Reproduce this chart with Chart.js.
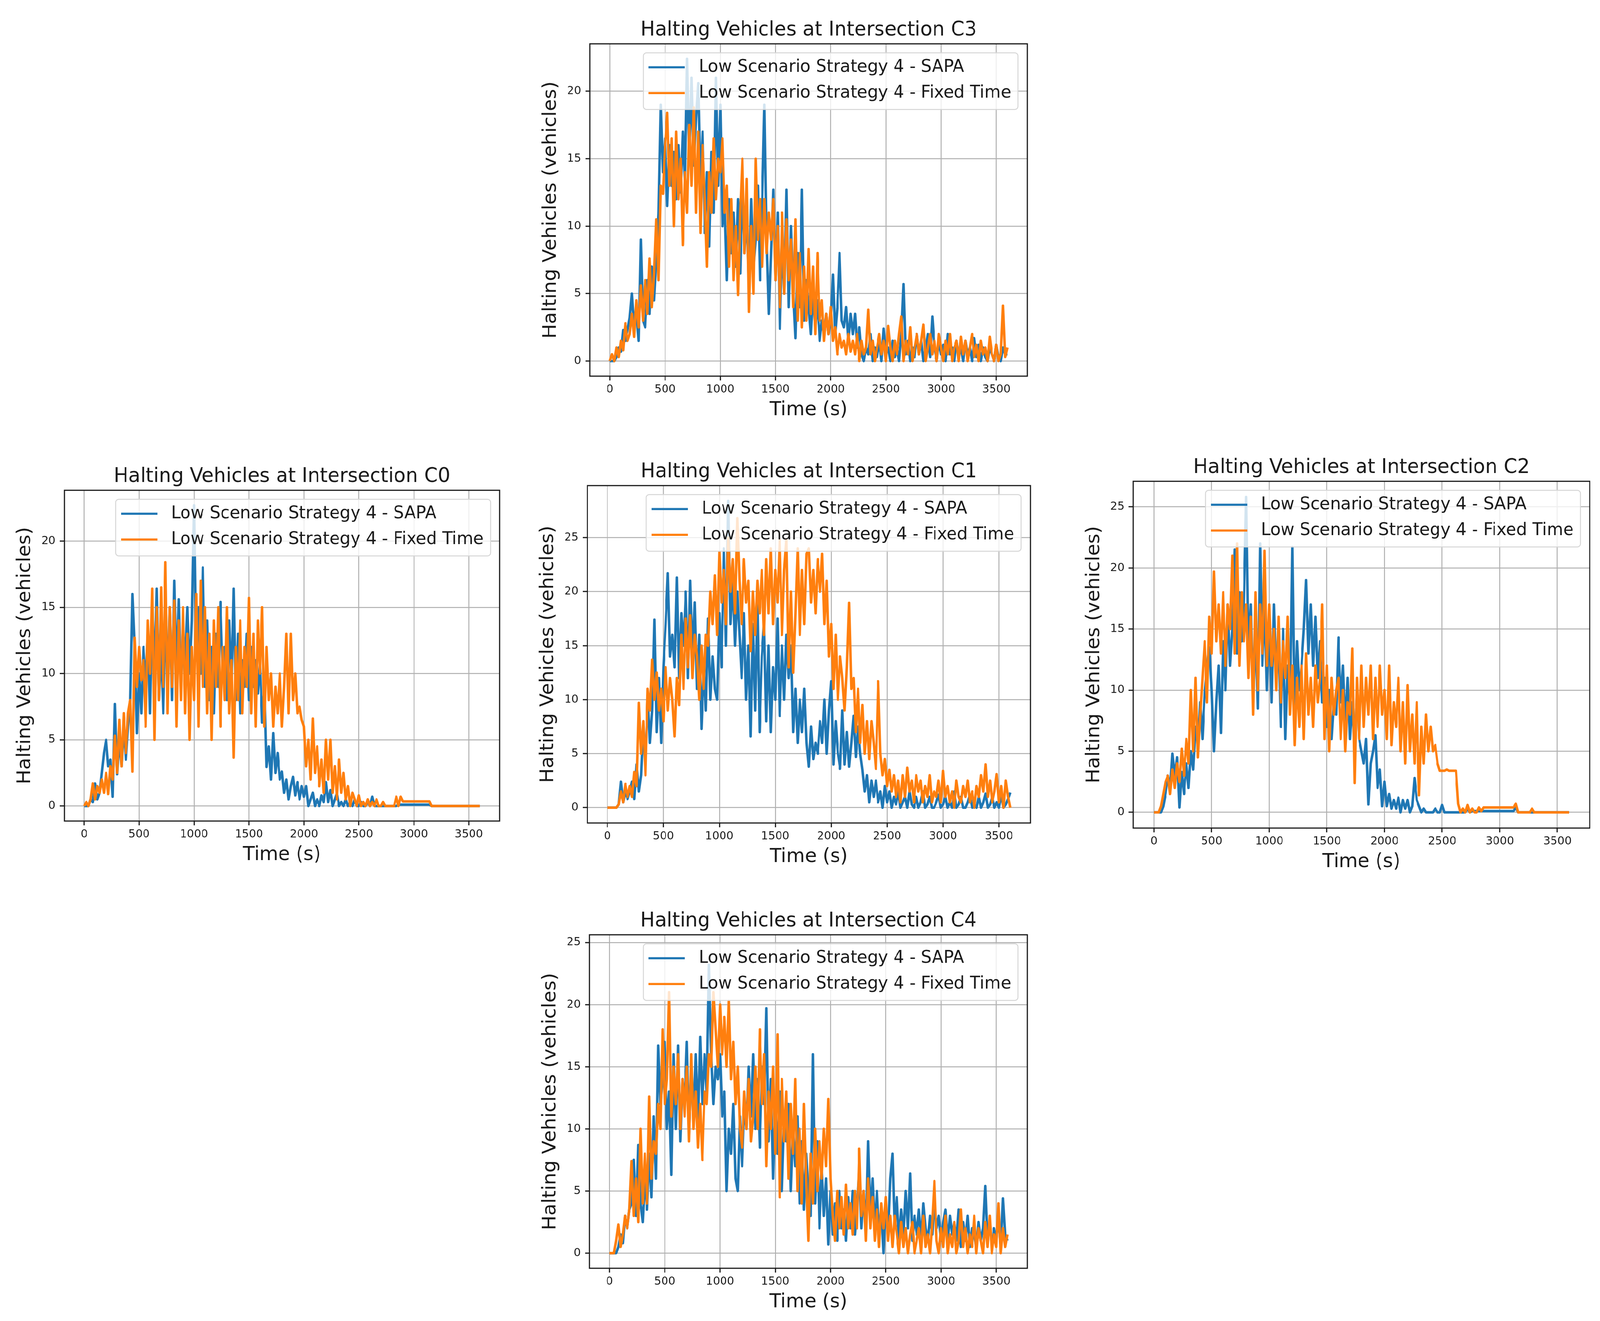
<!DOCTYPE html>
<html>
<head>
<meta charset="utf-8">
<title>Halting Vehicles at Intersections</title>
<script src="https://cdn.jsdelivr.net/npm/chart.js@4.4.1/dist/chart.umd.min.js"></script>
<style>
  html, body { margin: 0; padding: 0; background: #fff; overflow: hidden; }
  #page { position: relative; width: 4179px; height: 3382px; overflow: hidden; background: #fff; transform-origin: 0 0; }
  #page canvas { position: absolute; }
</style>
</head>
<body>
<div id="page"></div>
<script>
// one sample every 20 s, from 0 to 3600 s (181 values per series)
const stepSec = 20;
const timeTicks = [0, 500, 1000, 1500, 2000, 2500, 3000, 3500];
const yTicks20 = [0, 5, 10, 15, 20];
const yTicks25 = [0, 5, 10, 15, 20, 25];
const seriesNames = ['Low Scenario Strategy 4 - SAPA', 'Low Scenario Strategy 4 - Fixed Time'];

const sapaC3 = [
  0, 0, 0, 0.3, 1, 0.7, 2.3, 1.5, 2.3, 3.2,
  5, 2.5, 3.5, 1.5, 9, 3, 2.5, 6, 3.5, 7,
  4.5, 7.5, 11, 19, 14, 16.5, 11.5, 16, 13, 15.5,
  12, 16, 12.5, 17, 13, 22.4, 15, 21, 14.5, 18,
  20.6, 13, 17, 9.5, 14, 8.5, 15.5, 11, 21, 13,
  19, 10, 11.5, 6, 12, 8, 11, 7, 12, 6.5,
  13, 8, 11, 5.5, 12, 7, 9, 13, 6, 12,
  19, 9, 3.5, 8, 12.7, 6, 11, 2.4, 9, 5,
  12.7, 4, 10, 5, 1.7, 8, 4, 12.7, 3, 6,
  4, 2, 5, 2.5, 4.5, 1.5, 3, 2, 3.5, 2,
  3, 6.4, 2, 4, 8, 3, 2.5, 4, 1.5, 3.5,
  2, 3.5, 1, 2.5, 0.5, 0, 1, 0.5, 2, 0,
  1, 0.3, 1.5, 0, 2.4, 0.5, 1, 0, 1.5, 0.3,
  1, 0, 2, 5.7, 0.5, 1.5, 0, 1, 0.3, 2,
  0.5, 1.5, 0, 1, 2, 0.3, 3.3, 1, 0, 1.5,
  0.5, 1.2, 0, 2, 0.5, 1, 0, 1.5, 0.3, 1,
  0, 1.5, 0.5, 1, 0, 1.7, 0.3, 1.2, 0, 1,
  0.3, 0, 1, 0.5, 0, 1.2, 0.3, 0, 1, 0.5,
  0.5
];
const fixedC3 = [
  0, 0.5, 0, 1, 0.3, 1.5, 0.8, 2.8, 1.5, 2,
  3.5, 1.8, 4.5, 2.5, 5.6, 3, 6, 3.5, 7.6, 4,
  6.5, 10.5, 6, 13, 12.4, 16, 18.4, 13, 16.5, 10,
  17, 12, 15, 8.6, 14, 11, 17.5, 13, 18.8, 11,
  17, 9.5, 16, 12, 7, 14, 11, 16.5, 12, 15,
  14, 16.5, 11, 13, 7, 12, 6, 10, 4.9, 11,
  15, 8, 13.5, 3.65, 10, 5, 15, 9, 12, 7,
  12, 8, 11, 9, 12, 6, 10, 4, 11, 5,
  10.5, 6, 9, 4, 10.5, 3, 8, 2.5, 7, 3,
  8.3, 3.5, 7, 2, 8, 3, 4.5, 1.5, 3.5, 2,
  4, 1.5, 2.5, 0.5, 2, 1, 1.5, 0.5, 2, 0.7,
  1.5, 0.5, 2, 0, 1.5, 0.5, 1, 3.8, 0.5, 1.5,
  0, 1, 2, 0.5, 1.5, 0, 2.6, 1, 0, 1.5,
  0.5, 2, 3.3, 0, 1.5, 0.5, 2.5, 0, 1, 2,
  0.5, 1.5, 2.7, 0, 1, 2, 0.5, 1.5, 0, 2,
  1, 0, 1.5, 0.5, 2, 0, 1, 1.5, 0, 1.8,
  0.5, 1.5, 0, 1, 2, 0.3, 1.2, 0, 1.5, 0.5,
  1, 0, 1.8, 0.5, 0, 1.2, 0, 0.5, 4.1, 0.3,
  1
];

const sapaC0 = [
  0, 0, 0, 0.5, 0.3, 1.7, 0.5, 1, 2.5, 4,
  5, 3, 3.5, 0.7, 7.7, 2.4, 5, 3, 6, 3.5,
  6, 8, 16, 12, 5.5, 10, 7, 12, 9, 13,
  7, 15, 10, 16.4, 8, 12, 7, 14, 9.5, 15,
  8, 17, 10, 15.6, 9, 13, 11, 15, 10, 14,
  22.7, 11, 15, 10, 18, 9, 14, 8, 12, 7,
  13, 9, 15.4, 10, 12, 8, 14, 9, 16.4, 8,
  13, 7, 11, 9, 13, 8, 12, 9, 11, 8.5,
  11, 6.3, 9, 2.95, 4.5, 2, 5.5, 2.5, 4, 2,
  2.6, 1, 2, 0.5, 1.5, 2.2, 0.8, 1.8, 0.5, 1.5,
  0.7, 1.5, 0, 0.5, 1, 0, 0.5, 0, 0.8, 0.3,
  1.8, 0.3, 1.2, 0, 0.5, 1, 0, 0.3, 0, 0.5,
  0, 0.3, 0, 0.5, 0, 0, 0.3, 0, 0, 0.3,
  0, 0.7, 0, 0, 0, 0, 0, 0, 0, 0,
  0, 0, 0, 0.1, 0.1, 0.1, 0.1, 0.1, 0.1, 0.1,
  0.1, 0.1, 0.1, 0.1, 0.1, 0.1, 0.1, 0.1, 0, 0,
  0, 0, 0, 0, 0, 0, 0, 0, 0, 0,
  0, 0, 0, 0, 0, 0, 0, 0, 0, 0,
  0
];
const fixedC0 = [
  0, 0.3, 0, 0.5, 1.7, 0.5, 1.5, 1, 2, 1,
  2.5, 0.9, 3, 2, 5.3, 2.5, 6.5, 3, 7, 4,
  7, 8, 2.6, 12.7, 9, 12, 9.5, 11, 6, 14,
  10, 16.4, 5, 15, 8, 16.5, 9, 18.4, 7, 15,
  9, 15.5, 6, 14, 8, 15, 7, 13, 5, 12,
  8, 16, 6, 17, 9, 15, 7, 13, 5, 14,
  9, 15, 6, 12, 8, 15, 7, 11, 3.66, 12,
  8, 14, 7, 12, 9, 15.7, 7, 13, 6, 14,
  10, 15, 6, 12, 8, 10, 6, 9, 7, 10,
  6, 9, 13, 7, 13, 8, 10, 7, 7.5, 6.5,
  6, 3, 5, 2, 6.6, 2.5, 4.5, 1.5, 3.5, 1,
  5, 2, 5, 1, 3, 0.5, 3.5, 1, 2.5, 0.5,
  1.5, 0, 1, 0.5, 0, 0.8, 0, 0.3, 0, 0.5,
  0, 0.3, 0, 0.5, 0, 0, 0.3, 0, 0, 0,
  0, 0, 0.7, 0, 0.7, 0.35, 0.35, 0.35, 0.35, 0.35,
  0.35, 0.35, 0.35, 0.35, 0.35, 0.35, 0.35, 0.35, 0, 0,
  0, 0, 0, 0, 0, 0, 0, 0, 0, 0,
  0, 0, 0, 0, 0, 0, 0, 0, 0, 0,
  0
];

const sapaC1 = [
  0, 0, 0, 0, 0, 0.3, 2.4, 0.5, 1.5, 0.8,
  1.5, 2.4, 0.8, 4, 1.5, 3, 7.5, 4, 10.4, 6,
  9, 17.4, 7, 12, 6, 13, 17, 21.7, 14, 16,
  13, 21.3, 12, 18, 15, 20, 12, 21, 14, 19,
  11, 16, 7.3, 13, 9, 17.5, 10, 14, 11, 10,
  18, 13, 24, 15, 28.4, 17, 21, 15, 20, 16,
  12, 18, 10, 15, 6.6, 17, 9, 19, 7, 14,
  17, 8, 15, 7, 13, 10, 17.5, 8.5, 15, 10,
  16, 12, 15, 7, 11, 6, 10, 7, 11, 6,
  3.8, 7.5, 4.5, 6, 5, 8, 6, 10, 5, 9,
  11.7, 4, 8, 5, 3.6, 9, 4, 7, 3.8, 6,
  8.5, 4.7, 7.5, 5, 3.5, 1.5, 3, 0.5, 2.5, 1,
  2.5, 0.5, 1.5, 0, 2, 0.5, 1.5, 0, 1, 0.3,
  1.5, 0, 0.5, 1, 0, 1.5, 0.3, 0, 1, 0,
  0.5, 1.5, 0, 0.3, 1, 0, 0, 0.5, 1.2, 0,
  0.3, 1, 0, 0.5, 0, 1.5, 0, 0.3, 1, 0,
  0, 0.5, 1.2, 0, 0.3, 0, 1, 0, 0.5, 1.3,
  0, 0.3, 1, 0, 0.5, 0, 1.2, 0, 0.3, 0.8,
  1.4
];
const fixedC1 = [
  0, 0, 0, 0, 0, 0.3, 1.5, 0.5, 2.2, 1,
  2, 1, 3.3, 2, 9.7, 5, 8, 3, 11, 9,
  13.7, 10, 12.5, 9, 11, 8, 13, 9, 12, 10,
  6.6, 12, 9.5, 16, 11, 17.5, 13, 17.8, 12, 16,
  14, 10, 15, 11, 16, 15, 20, 17, 21.5, 16,
  23.7, 19, 22, 17, 25, 20, 23, 18, 26.8, 21,
  17, 23, 19, 21, 14.5, 20, 16, 21, 18, 22,
  16, 23, 18, 24, 17, 22, 19, 24.8, 16, 22,
  24.8, 13, 20, 12.5, 18, 24, 16, 22, 17, 23.5,
  24, 19, 22, 18, 23, 20, 23.5, 17, 21, 14,
  17, 11, 16, 10, 14, 12, 9, 13, 18.96, 11,
  12, 7, 11, 6, 9.5, 5, 8, 4.5, 8, 6,
  3.6, 11.7, 5, 3, 4.5, 2, 3.5, 1.5, 3, 1,
  2.5, 0.5, 3, 1, 3.7, 1.5, 2.5, 0.5, 3, 1.5,
  2.5, 0.5, 2, 1, 3, 0.5, 1.5, 1, 2.5, 0.5,
  3.4, 1, 2, 0.5, 1.5, 0, 2.5, 1, 0.5, 2,
  1, 2.5, 0.5, 1.5, 0, 2, 1, 3, 1.5, 4,
  1, 2.5, 0.5, 1.5, 3.1, 0.5, 2, 0, 2.5, 1,
  0
];

const sapaC2 = [
  0, 0, 0, 0, 0.5, 1.5, 3, 2, 4.8, 3,
  4.5, 0.4, 3.3, 1.5, 4, 2, 5, 3.5, 7, 5.5,
  9, 6, 10, 12, 13.5, 10, 5, 9, 12, 6.5,
  14, 10, 17, 12, 15, 21.5, 13, 18, 14, 17,
  25.8, 13, 17, 9, 15, 8.5, 22, 12, 17, 10,
  16, 9, 17, 11, 14, 7, 15, 6, 12, 9,
  21.7, 8, 14, 10, 12, 15, 19, 13, 17, 12,
  16, 11, 14, 9, 11, 7, 10, 6, 9, 8,
  14.3, 9, 12, 7, 11, 6, 9, 5, 10, 6,
  5, 4, 6, 0.65, 4, 5, 6.3, 2, 3.5, 0.5,
  2.5, 0.5, 1.5, 0.3, 1, 0.3, 1.2, 0, 1, 0.3,
  1, 0, 0.5, 2.8, 1, 0.5, 0, 0.3, 0, 0,
  0, 0, 0.3, 0, 0, 0.6, 0, 0, 0, 0,
  0, 0, 0, 0, 0, 0, 0.3, 0, 0.1, 0.1,
  0.1, 0.1, 0.1, 0.1, 0.1, 0.1, 0.1, 0.1, 0.1, 0.1,
  0.1, 0.1, 0.1, 0.1, 0.1, 0.1, 0.1, 0.4, 0, 0,
  0, 0, 0, 0, 0, 0, 0, 0, 0, 0,
  0, 0, 0, 0, 0, 0, 0, 0, 0, 0,
  0
];
const fixedC2 = [
  0, 0, 0, 0.5, 1.5, 2.5, 3, 1.5, 3.5, 2,
  4, 2.5, 5.2, 3, 6, 4, 10, 5, 11, 4.5,
  8, 11, 14, 9, 16, 13, 19.7, 14, 17, 13,
  18, 12, 17, 15, 21, 13, 22, 12, 18, 14,
  17, 11, 16, 8, 18, 10, 17, 13, 21.4, 12,
  17, 12, 15, 10, 16, 9, 14, 11, 16, 8,
  12, 5.5, 11, 7, 12, 6, 13, 8, 11, 7,
  12, 9, 11, 17, 6, 12, 5, 11, 8, 10,
  11, 6, 10, 5, 9, 8, 13.4, 2.4, 11, 6,
  12, 7, 11, 8, 12, 6, 11, 7, 12, 8,
  10, 6, 12, 5.5, 9, 7, 11, 5, 9, 4,
  10.4, 5, 8, 4, 9, 1.4, 7, 4, 8, 5,
  7, 5, 5.5, 4, 3.4, 3.4, 3.4, 3.5, 3.4, 3.4,
  3.4, 3.4, 0.7, 0, 0.3, 0, 0.6, 0, 0.3, 0,
  0, 0.4, 0.1, 0.4, 0.4, 0.4, 0.4, 0.4, 0.4, 0.4,
  0.4, 0.4, 0.4, 0.4, 0.4, 0.4, 0.4, 0.7, 0, 0,
  0, 0, 0, 0, 0.3, 0, 0, 0, 0, 0,
  0, 0, 0, 0, 0, 0, 0, 0, 0, 0,
  0
];

const sapaC4 = [
  0, 0, 0, 0, 0.5, 1.5, 0.8, 3, 2, 3.5,
  4, 7.5, 3, 8.7, 4, 2.5, 6, 3.5, 8, 4.5,
  11, 6, 16.7, 12, 14, 17, 10, 13, 6.3, 16,
  10, 16.7, 9, 14, 12, 17, 9.5, 15, 11, 16,
  10.5, 17.4, 12, 16, 13, 23.2, 16, 12, 15, 14,
  16, 11, 13, 5, 10, 8, 12, 6, 5, 11,
  7, 12, 10, 15, 11, 16, 10, 14, 8.5, 15,
  12, 19.7, 9, 14, 6, 12, 8, 13, 5, 11,
  9, 12, 5, 10, 7, 11, 4, 9, 3.5, 8,
  5, 3, 16, 4, 9, 2, 7, 3, 6, 0.7,
  5, 1.5, 4, 1, 5, 2, 3.5, 1, 4.5, 2,
  5, 1.5, 4, 7, 2, 5, 1.5, 9, 3, 6,
  2, 5, 1.5, 3.5, 0, 4, 1.5, 6, 8, 2,
  4.5, 1, 3.5, 1.5, 5, 2, 6.4, 1, 3, 1.5,
  3.5, 1, 4, 2, 1, 3, 1.5, 4, 2, 3,
  1, 2.5, 3.5, 1, 3, 1.5, 2.5, 1, 3.5, 0.5,
  2.5, 1, 3, 0.5, 2, 1.5, 0.5, 2.5, 1, 2,
  5.4, 1, 2.5, 0.5, 2, 1, 3, 0.5, 4.4, 1.5,
  1
];
const fixedC4 = [
  0, 0, 0, 1, 2.3, 0.5, 1.5, 3, 2, 3.5,
  7.4, 3, 6, 2.5, 10, 4, 8, 4, 12.6, 6,
  9, 8, 12, 10, 18, 12, 14, 21, 11, 15,
  12, 16, 10, 14, 11, 15, 9, 16, 10, 13,
  8.5, 12, 7.5, 13, 12, 16, 15, 21, 18, 15,
  20, 16, 19, 15, 20.3, 14, 17, 12, 15, 10,
  8.5, 13, 10, 14, 9, 11, 15, 10, 18, 12,
  16, 7, 13, 10, 15, 8, 17.6, 4.5, 14, 9,
  13, 6, 12, 8, 14, 5, 10, 4, 12, 6,
  1, 8, 4, 10, 5, 9, 6, 10, 7, 12.4,
  6, 3, 1, 5, 2, 4.5, 1.5, 5.5, 2, 4,
  1.5, 5, 2, 8.4, 3, 5, 1, 6, 2, 4.5,
  1, 3.5, 0.5, 4, 2, 4.5, 1, 3, 0.5, 3,
  1.5, 0, 2.5, 0.5, 2, 0, 1.5, 2.5, 0, 1,
  2, 0, 3, 0.5, 1.5, 0, 2.5, 5.8, 1, 0,
  2, 0.5, 3, 0, 1.5, 0.5, 2.5, 0, 1, 3.5,
  0.5, 2, 0, 1.5, 0.5, 3, 0, 2, 1, 0,
  2.5, 0.5, 3, 0, 1.5, 0.5, 4, 0, 2, 0.5,
  1.5
];

// frame = plot area box on the page: [left, top, width, height]
const panels = [
  { name: 'C3', sapa: sapaC3, fixed: fixedC3, yTicks: yTicks20, yMin: -1.12, yMax: 23.52, frame: [1541, 112, 1142, 851] },
  { name: 'C0', sapa: sapaC0, fixed: fixedC0, yTicks: yTicks20, yMin: -1.135, yMax: 23.835, frame: [168, 1255, 1137, 847] },
  { name: 'C1', sapa: sapaC1, fixed: fixedC1, yTicks: yTicks25, yMin: -1.42, yMax: 29.82, frame: [1534, 1243, 1157, 864] },
  { name: 'C2', sapa: sapaC2, fixed: fixedC2, yTicks: yTicks25, yMin: -1.29, yMax: 27.09, frame: [2960, 1232, 1192, 888] },
  { name: 'C4', sapa: sapaC4, fixed: fixedC4, yTicks: yTicks25, yMin: -1.22, yMax: 25.62, frame: [1540, 2393, 1143, 854] }
];

const textColor = '#1a1a1a';
const axisW = 175;    // room left of the frame for tick labels + y title
const axisH = 125;    // room under the frame for tick labels + x title
const titleH = 73.2;  // 51px * 1.2 + padding 8 + 4
const rightPad = 20;

Chart.defaults.font.family = '"DejaVu Sans", sans-serif';
Chart.defaults.color = textColor;

// full box round the plot area, like matplotlib spines
const axesFrame = {
    id: 'axesFrame',
    afterDatasetsDraw(chart) {
        const { ctx, chartArea: a } = chart;
        ctx.save();
        ctx.strokeStyle = '#1a1a1a';
        ctx.lineWidth = 3;
        ctx.strokeRect(a.left, a.top, a.right - a.left, a.bottom - a.top);
        ctx.restore();
    }
};

// legend drawn inside the plot area, upper right
const insideLegend = {
    id: 'insideLegend',
    afterDraw(chart) {
        const { ctx, chartArea: a } = chart;
        const sets = chart.data.datasets;
        ctx.save();
        ctx.font = '44px "DejaVu Sans"';
        const textW = Math.max(...sets.map(d => ctx.measureText(d.label).width));
        const padL = 14, padR = 18, handleLen = 95, handleGap = 36, rowGap = 66;
        const boxW = padL + handleLen + handleGap + textW + padR;
        const boxH = 145;
        const x0 = a.right - 24 - boxW;
        const y0 = a.top + 23;

        ctx.beginPath();
        if (ctx.roundRect) ctx.roundRect(x0, y0, boxW, boxH, 8);
        else ctx.rect(x0, y0, boxW, boxH);
        ctx.fillStyle = 'rgba(255, 255, 255, 0.8)';
        ctx.fill();
        ctx.lineWidth = 2.5;
        ctx.strokeStyle = '#d6d6d6';
        ctx.stroke();

        sets.forEach((d, i) => {
            const cy = y0 + 37 + i * rowGap;
            ctx.beginPath();
            ctx.moveTo(x0 + padL, cy);
            ctx.lineTo(x0 + padL + handleLen, cy);
            ctx.strokeStyle = d.borderColor;
            ctx.lineWidth = 5.5;
            ctx.stroke();
            ctx.fillStyle = textColor;
            ctx.textAlign = 'left';
            ctx.textBaseline = 'middle';
            ctx.fillText(d.label, x0 + padL + handleLen + handleGap, cy);
        });
        ctx.restore();
    }
};

function toPoints(values) {
    return values.map((v, i) => ({ x: i * stepSec, y: v }));
}

const page = document.getElementById('page');

// the sheet is 4179 x 3382; if the window is smaller, squeeze it to fill the window
const viewW = document.documentElement.clientWidth;
const viewH = document.documentElement.clientHeight;
const fitX = Math.min(1, viewW / 4179);
const fitY = Math.min(1, viewH / 3382);
if (fitX < 1 || fitY < 1) page.style.transform = 'scale(' + fitX + ', ' + fitY + ')';

panels.forEach(p => {
    const [fl, ft, fw, fh] = p.frame;
    const canvas = document.createElement('canvas');
    const cw = axisW + fw + rightPad;
    const ch = Math.round(titleH + fh + axisH);
    canvas.width = cw;
    canvas.height = ch;
    canvas.style.left = (fl - axisW) + 'px';
    canvas.style.top = (ft - titleH) + 'px';
    canvas.style.width = cw + 'px';
    canvas.style.height = ch + 'px';
    page.appendChild(canvas);

    new Chart(canvas, {
        type: 'line',
        data: {
            datasets: [
                {
                    label: seriesNames[0],
                    data: toPoints(p.sapa),
                    borderColor: '#1f77b4',
                    borderWidth: 6.5,
                    order: 1
                },
                {
                    label: seriesNames[1],
                    data: toPoints(p.fixed),
                    borderColor: '#ff7f0e',
                    borderWidth: 6.5,
                    order: 0
                }
            ]
        },
        options: {
            responsive: false,
            animation: false,
            devicePixelRatio: 1,
            layout: { padding: { left: 0, right: rightPad, top: 0, bottom: 0 } },
            elements: {
                point: { radius: 0 },
                line: { tension: 0, borderJoinStyle: 'round', fill: false }
            },
            plugins: {
                legend: { display: false },
                tooltip: { enabled: false },
                title: {
                    display: true,
                    fullSize: false,
                    text: 'Halting Vehicles at Intersection ' + p.name,
                    color: textColor,
                    font: { size: 51, weight: 'normal', lineHeight: 1.2 },
                    padding: { top: 8, bottom: 4 }
                }
            },
            scales: {
                x: {
                    type: 'linear',
                    min: -180,
                    max: 3780,
                    afterBuildTicks: s => { s.ticks = timeTicks.map(v => ({ value: v })); },
                    afterFit: s => { s.height = axisH; },
                    ticks: {
                        font: { size: 29 },
                        color: textColor,
                        padding: 6,
                        maxRotation: 0,
                        autoSkip: false,
                        callback: v => String(v)
                    },
                    grid: { color: '#b0b0b0', lineWidth: 2.5, tickColor: '#1a1a1a', tickLength: 11, tickWidth: 3 },
                    border: { display: false },
                    title: {
                        display: true,
                        text: 'Time (s)',
                        color: textColor,
                        font: { size: 50, lineHeight: 1.2 },
                        padding: { top: 0, bottom: 8 }
                    }
                },
                y: {
                    type: 'linear',
                    min: p.yMin,
                    max: p.yMax,
                    afterBuildTicks: s => { s.ticks = p.yTicks.map(v => ({ value: v })); },
                    afterFit: s => { s.width = axisW; },
                    ticks: {
                        font: { size: 29 },
                        color: textColor,
                        padding: 11,
                        autoSkip: false,
                        callback: v => String(v)
                    },
                    grid: { color: '#b0b0b0', lineWidth: 2.5, tickColor: '#1a1a1a', tickLength: 12, tickWidth: 3 },
                    border: { display: false },
                    title: {
                        display: true,
                        text: 'Halting Vehicles (vehicles)',
                        color: textColor,
                        font: { size: 50, lineHeight: 1.2 },
                        padding: { top: 43, bottom: 0 }
                    }
                }
            }
        },
        plugins: [axesFrame, insideLegend]
    });
});
</script>
</body>
</html>
